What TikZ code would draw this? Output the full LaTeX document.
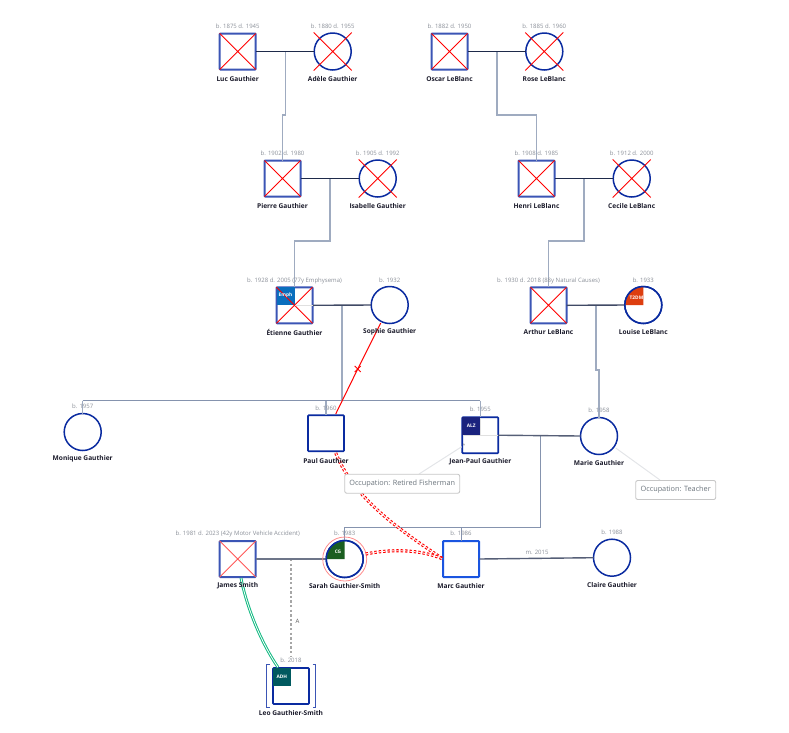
\documentclass[tikz,border=0pt]{standalone}
\usepackage{fontspec}
\usetikzlibrary{calc}
\setmainfont{Open Sans}
\definecolor{deadblue}{HTML}{3B55B5}
\definecolor{livenavy}{HTML}{0A2BA0}
\definecolor{marcblue}{HTML}{1A55E0}
\definecolor{couple}{HTML}{1E2A4A}
\definecolor{dropc}{HTML}{9FABC0}
\definecolor{sibc}{HTML}{8593AE}
\definecolor{infoc}{HTML}{8A8F98}
\definecolor{namec}{HTML}{1A1A2A}
\definecolor{notec}{HTML}{6C757D}
\definecolor{noteline}{HTML}{E3E5E8}
\definecolor{greenl}{HTML}{12B981}
\tikzset{
 x=1pt,y=-1pt,
 sq/.style={draw=deadblue,line width=2pt,fill=white,rounded corners=0.8pt,minimum size=36pt,inner sep=0pt,outer sep=0pt,shape=rectangle},
 sqlive/.style={sq,draw=livenavy,line width=1.7pt},
 circ/.style={draw=livenavy,line width=1.5pt,fill=white,minimum size=37pt,inner sep=0pt,outer sep=0pt,shape=circle},
 nm/.style={text=namec,font=\fontsize{6.6}{8}\selectfont\bfseries,inner sep=0pt,yshift=-0.6pt},
 info/.style={text=infoc,font=\fontsize{6}{7}\selectfont,inner sep=0pt,yshift=-0.5pt},
 tile/.style={text=white,font=\fontsize{4.8}{5}\selectfont\bfseries,inner sep=0pt},
 cpl/.style={draw=couple,line width=1.4pt},
 dropl/.style={draw=dropc,line width=1.2pt},
 sibl/.style={draw=sibc,line width=1pt},
 xm/.style={draw=red,line width=0.9pt},
 nt/.style={draw=black!22,line width=0.9pt,fill=white,rounded corners=2pt,text=notec,font=\fontsize{7.3}{9}\selectfont,inner sep=0pt,minimum height=19pt},
 ntl/.style={draw=noteline,line width=1pt},
 dbl/.style={draw=red,line width=1.1pt,double=white,double distance=0.9pt,dash pattern=on 2.4pt off 2pt},
}
\begin{document}
\begin{tikzpicture}
\useasboundingbox (0,0) rectangle (789,732);
% people
\node[sq] (luc) at (237.7,51.5) {};
\node[circ] (adele) at (332.7,51.5) {};
\node[sq] (oscar) at (449.5,51.5) {};
\node[circ] (rose) at (544.3,51.5) {};
\node[sq] (pierre) at (282.5,178.5) {};
\node[circ] (isabelle) at (377.7,178.5) {};
\node[sq] (henri) at (536.5,178.5) {};
\node[circ] (cecile) at (631.7,178.5) {};
\node[sq] (etienne) at (294.5,305.3) {};
\node[circ] (sophie) at (389.7,305) {};
\node[sq] (arthur) at (548.5,305.3) {};
\node[circ] (louise) at (643.3,305) {};
\node[circ] (monique) at (82.7,432) {};
\node[sqlive] (paul) at (326,433.3) {};
\node[sqlive] (jeanpaul) at (480.3,435.2) {};
\node[circ] (marie) at (599,436) {};
\node[sq,draw=marcblue] (marc) at (461,559) {};
\node[circ] (claire) at (612,557.7) {};
\node[sq] (james) at (237.7,559) {};
\node[circ] (sarah) at (344.7,559) {};
\node[sqlive] (leo) at (291,686) {};
% junctions
\coordinate (j1) at (285.3,51.5);
\coordinate (j1a) at (285.3,115);
\coordinate (j1b) at (282.5,115);
\coordinate (j2) at (497,51.5);
\coordinate (j2a) at (497,115);
\coordinate (j2b) at (536.5,115);
\coordinate (j3) at (330,178.5);
\coordinate (j3a) at (330,241);
\coordinate (j3b) at (294.5,241);
\coordinate (j4) at (584,178.5);
\coordinate (j4a) at (584,241);
\coordinate (j4b) at (548.5,241);
\coordinate (j5) at (342,305);
\coordinate (j5a) at (342,400.5);
\coordinate (s0) at (82.7,400.5);
\coordinate (s1) at (326,400.5);
\coordinate (s2) at (480.3,400.5);
\coordinate (j6) at (596,305);
\coordinate (j6a) at (596,370);
\coordinate (j6b) at (599,370);
\coordinate (j7) at (540,435.6);
\coordinate (j7a) at (540,527);
\coordinate (j7b) at (461,527);
\coordinate (j7c) at (344.7,527);
\coordinate (j8) at (291,559);
\coordinate (j8a) at (291,657);
% descent lines
\draw[dropl] (j1) -- (j1a) -- (j1b) -- (pierre.north);
\draw[dropl] (j2) -- (j2a) -- (j2b) -- (henri.north);
\draw[dropl] (j3) -- (j3a) -- (j3b) -- (etienne.north);
\draw[dropl] (j4) -- (j4a) -- (j4b) -- (arthur.north);
\draw[dropl] (j5) -- (j5a);
\draw[sibl] (s0) -- (s2);
\draw[dropl] (s0) -- (monique.north);
\draw[dropl] (s1) -- (paul.north);
\draw[dropl] (s2) -- (jeanpaul.north);
\draw[dropl] (j6) -- (j6a) -- (j6b) -- (marie.north);
\draw[sibl] (j7) -- (j7a) -- (j7c) -- (sarah.north);
\draw[sibl] (j7b) -- (marc.north);
\draw[draw=black!35,line width=1.1pt,dash pattern=on 2.4pt off 2.2pt] (j8) -- (j8a);
% couples
\draw[cpl] (luc.east) -- (adele.west);
\draw[cpl] (oscar.east) -- (rose.west);
\draw[cpl] (pierre.east) -- (isabelle.west);
\draw[cpl] (henri.east) -- (cecile.west);
\draw[cpl,draw=couple!85!white] (etienne.east) -- (sophie.west);
\draw[cpl,draw=couple!85!white] (arthur.east) -- (louise.west);
\draw[cpl,draw=couple!75!white] (jeanpaul.east) -- (marie.west);
\draw[cpl,draw=couple!65!white] (james.east) -- (sarah.west);
\draw[cpl,draw=couple!75!white] (marc.east) -- (claire.west);
% deceased crosses
\foreach \n in {luc,oscar,pierre,henri,arthur,etienne}{
 \draw[xm] (\n.north west) -- (\n.south east) (\n.north east) -- (\n.south west);
}
\draw[xm,draw=red!65] (james.north west) -- (james.south east) (james.north east) -- (james.south west);
\foreach \n in {adele,rose,isabelle,cecile}{
 \draw[xm] ($(\n)+(-19,-19)$) -- ($(\n)+(19,19)$) ($(\n)+(19,-19)$) -- ($(\n)+(-19,19)$);
}
% condition tiles
\fill[fill=black!12] (etienne.center) rectangle +(18,0.6);
\fill[fill=black!12] (jeanpaul.center) rectangle +(18,0.6);
\fill[fill=black!12] (jeanpaul.center) rectangle +(0.6,-17);
\fill[fill=black!12] (jeanpaul.center) rectangle +(-17,0.6);
\node[fill={rgb,255:red,10;green,110;blue,189},minimum size=18pt,inner sep=0pt] (t1) at (285.5,296) {};
\draw[xm] (etienne.north west) -- (etienne.center);
\node[tile] at (t1) [yshift=0.5pt] {Emph};
\node[fill={rgb,255:red,26;green,35;blue,126},minimum size=18pt,inner sep=0pt] (t2) at (471.2,426) {};
\node[tile] at (t2) {ALZ};
\node[fill={rgb,255:red,0;green,89;blue,95},minimum size=18pt,inner sep=0pt] (t3) at (281.8,676.8) {};
\node[tile] at (t3) {ADH};
\fill[fill={rgb,255:red,221;green,62;blue,15}] (louise.center) -- ++(-18,0) arc (180:270:18) -- cycle;
\node[tile] at (636.5,298) {T2DM};
\fill[fill={rgb,255:red,27;green,94;blue,32}] (sarah.center) -- ++(-18,0) arc (180:270:18) -- cycle;
\node[tile] at (338,551.5) {CG};
\draw[draw=livenavy,line width=1.5pt] (louise) circle (18.5);
\draw[draw=livenavy,line width=1.5pt] (sarah) circle (18.5);
\draw[draw=red!45,line width=0.8pt] (sarah) circle (22);
\node[text=black!45,font=\fontsize{5}{5}\selectfont,inner sep=0pt] at (464,445.5) {*};
% adoption brackets
\draw[draw=deadblue,line width=1pt] (269.5,664.5) -- (266.5,664.5) -- (266.5,707) -- (269.5,707);
\draw[draw=deadblue,line width=1pt] (312.5,664.5) -- (315.5,664.5) -- (315.5,707) -- (312.5,707);
% special links
\coordinate (xmk) at (357.7,369);
\coordinate (sophiefoot) at (380.7,323);
\coordinate (paultop) at (335.7,414);
\draw[draw=red,line width=1pt] (sophiefoot) -- (xmk) -- (paultop);
\draw[draw=red,line width=0.9pt] ($(xmk)+(-3,-3)$) -- ($(xmk)+(3,3)$) ($(xmk)+(3,-3)$) -- ($(xmk)+(-3,3)$);
\draw[dbl] (335.7,453) .. controls (355,500) and (400,530) .. (marc.west);
\draw[dbl] (365.7,554) .. controls (390,549) and (420,549) .. (marc.west);
\draw[draw=greenl,line width=1pt,double=white,double distance=0.8pt] (241,578) .. controls (245,600) and (258,638) .. (278,667.3);
% notes
\coordinate (n1) at (419,474);
\coordinate (n2) at (660,480);
\coordinate (mf) at (615.7,448);
\coordinate (jf) at (461.7,446.7);
\draw[ntl] (jf) -- (n1);
\draw[ntl] (mf) -- (n2);
\node[nt,minimum width=115pt] (note1) at (402.2,483.7) {Occupation: Retired Fisherman};
\node[nt,minimum width=80pt] (note2) at (675.7,490) {Occupation: Teacher};
% small labels
\node[info,text=black!65] at (297.5,621) {A};
\node[info] at (537,552) {m. 2015};
% life dates
\node[info] at (237.7,25.7) {b. 1875 d. 1945};
\node[info] at (332.7,25.7) {b. 1880 d. 1955};
\node[info] at (449.5,25.7) {b. 1882 d. 1950};
\node[info] at (544.3,25.7) {b. 1885 d. 1960};
\node[info] at (282.5,153) {b. 1902 d. 1980};
\node[info] at (377.7,153) {b. 1905 d. 1992};
\node[info] at (536.5,153) {b. 1908 d. 1985};
\node[info] at (631.7,153) {b. 1912 d. 2000};
\node[info] at (294.5,280) {b. 1928 d. 2005 (77y Emphysema)};
\node[info] at (389.7,280) {b. 1932};
\node[info] at (548.5,280) {b. 1930 d. 2018 (88y Natural Causes)};
\node[info] at (643.3,280) {b. 1933};
\node[info] at (82.7,405.5) {b. 1957};
\node[info] at (326,408) {b. 1960};
\node[info] at (480.3,409) {b. 1955};
\node[info] at (599,410) {b. 1958};
\node[info] at (237.7,533) {b. 1981 d. 2023 (42y Motor Vehicle Accident)};
\node[info] at (344.7,533) {b. 1983};
\node[info] at (461,533) {b. 1986};
\node[info] at (612,532) {b. 1988};
\node[info] at (291,660) {b. 2018};
% names
\node[nm] at (237.7,78.3) {Luc Gauthier};
\node[nm] at (332.7,78.3) {Adèle Gauthier};
\node[nm] at (449.5,78.3) {Oscar LeBlanc};
\node[nm] at (544.3,78.3) {Rose LeBlanc};
\node[nm] at (282.5,205.5) {Pierre Gauthier};
\node[nm] at (377.7,205.5) {Isabelle Gauthier};
\node[nm] at (536.5,205.5) {Henri LeBlanc};
\node[nm] at (631.7,205.5) {Cecile LeBlanc};
\node[nm] at (294.5,331.5) {Étienne Gauthier};
\node[nm] at (389.7,331.5) {Sophie Gauthier};
\node[nm] at (548.5,331.5) {Arthur LeBlanc};
\node[nm] at (643.3,331.5) {Louise LeBlanc};
\node[nm] at (82.7,458.5) {Monique Gauthier};
\node[nm] at (326,460.5) {Paul Gauthier};
\node[nm] at (480.3,461.5) {Jean-Paul Gauthier};
\node[nm] at (599,462.5) {Marie Gauthier};
\node[nm] at (237.7,585.5) {James Smith};
\node[nm] at (344.7,585.5) {Sarah Gauthier-Smith};
\node[nm] at (461,585.5) {Marc Gauthier};
\node[nm] at (612,584.5) {Claire Gauthier};
\node[nm] at (291,712.5) {Leo Gauthier-Smith};
\end{tikzpicture}
\end{document}
